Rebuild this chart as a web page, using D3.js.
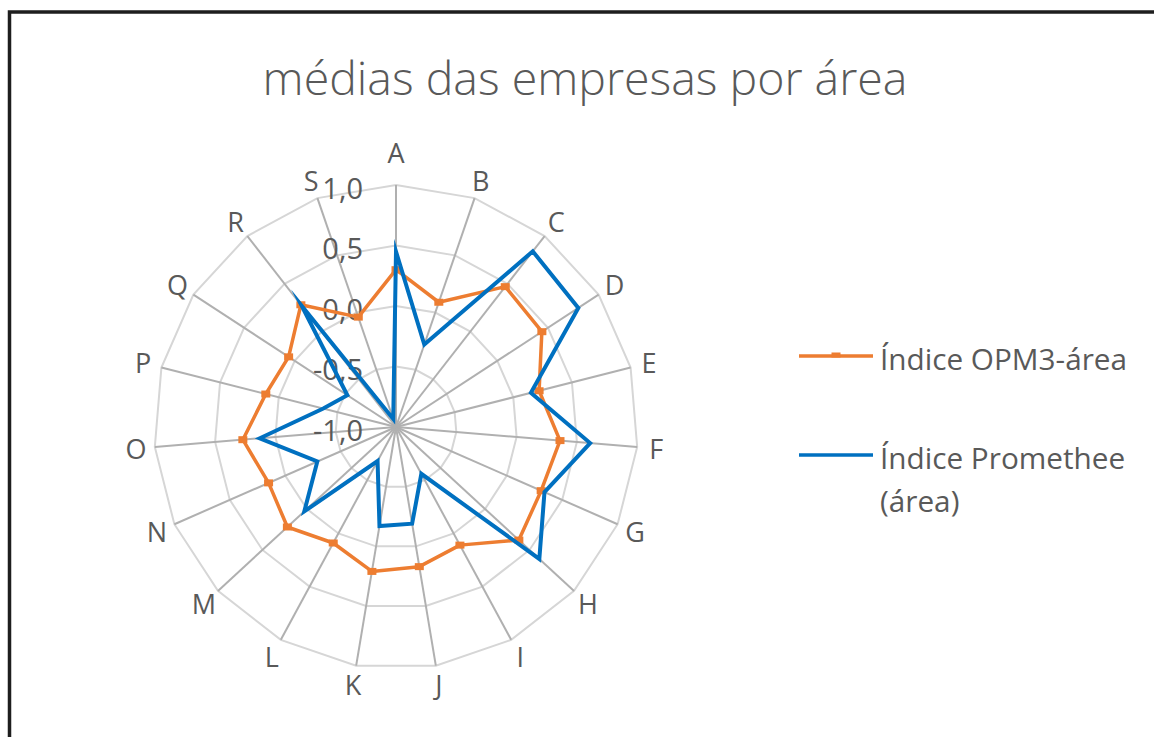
<!DOCTYPE html>
<html>
<head>
<meta charset="utf-8">
<script src="https://cdn.jsdelivr.net/npm/d3@7"></script>
<style>
  html, body { margin: 0; padding: 0; background: #ffffff; }
  svg { display: block; }
  text { font-family: "Open Sans", "Noto Sans", sans-serif; fill: #595959; }
</style>
</head>
<body>
<svg id="chart" width="1154" height="737"></svg>
<script>
// Categories (areas) around the radar, clockwise from the top
const categories = ["A","B","C","D","E","F","G","H","I","J","K","L","M","N","O","P","Q","R","S"];

// Series values
const opm3Values = [0.30, 0.09, 0.47, 0.44, 0.22, 0.36, 0.31, 0.38, 0.11, 0.17, 0.21, 0.09, 0.22, 0.15, 0.27, 0.11, 0.06, 0.28, -0.04];
const prometheeValues = [0.45, -0.28, 0.84, 0.80, 0.15, 0.61, 0.34, 0.61, -0.56, -0.19, -0.17, -0.68, 0.03, -0.29, 0.13, -0.38, -0.52, 0.27, -0.93];

// Radial axis ticks and their labels
const tickValues = [-1.0, -0.5, 0.0, 0.5, 1.0];
const tickLabels = ["-1,0", "-0,5", "0,0", "0,5", "1,0"];

const seriesNames = ["Índice OPM3-área", "Índice Promethee (área)"];
const seriesColors = ["#ED7D31", "#0070C0"];

const svg = d3.select("#chart");
const width = 1154, height = 737;

svg.append("rect").attr("width", width).attr("height", height).attr("fill", "#ffffff");

// Chart frame (runs off the right and bottom edges)
svg.append("rect")
  .attr("x", 9.5).attr("y", 12)
  .attr("width", 1200).attr("height", 800)
  .attr("fill", "none")
  .attr("stroke", "#1e1e1e")
  .attr("stroke-width", 3.5);

// Size a text element so that it spans a given width
function fitWidth(sel, target) {
  const base = parseFloat(sel.style("font-size"));
  const w = sel.node().getComputedTextLength();
  if (w > 0) sel.style("font-size", (base * target / w).toFixed(2) + "px");
}

// Title
const title = svg.append("text")
  .attr("x", 585).attr("y", 95)
  .attr("text-anchor", "middle")
  .style("font-size", "43px")
  .style("font-weight", 300)
  .text("médias das empresas por área");
fitWidth(title, 645);

const cx = 396, cy = 427, R = 242;
const g = svg.append("g").attr("transform", `translate(${cx},${cy})`);

const rScale = d3.scaleLinear().domain([-1, 1]).range([0, R]);
const aScale = d3.scaleLinear().domain([0, categories.length]).range([0, 2 * Math.PI]);

const ringLine = d3.lineRadial()
  .angle((d, i) => aScale(i))
  .radius(d => rScale(d))
  .curve(d3.curveLinearClosed);

// Gridline rings (polygons)
g.append("g").selectAll("path")
  .data(tickValues.filter(t => t > -1))
  .join("path")
  .attr("d", t => ringLine(categories.map(() => t)))
  .attr("fill", "none")
  .attr("stroke", "#d6d6d6")
  .attr("stroke-width", 2);

// Spokes
g.append("g").selectAll("line")
  .data(categories)
  .join("line")
  .attr("x1", 0).attr("y1", 0)
  .attr("x2", (d, i) => rScale(1) * Math.sin(aScale(i)))
  .attr("y2", (d, i) => -rScale(1) * Math.cos(aScale(i)))
  .attr("stroke", "#b0b0b0")
  .attr("stroke-width", 2);

// Category labels
const labelR = rScale(1) + 19;
g.append("g").selectAll("text")
  .data(categories)
  .join("text")
  .attr("x", (d, i) => labelR * Math.sin(aScale(i)))
  .attr("y", (d, i) => -(i === 0 ? labelR + 14 : labelR) * Math.cos(aScale(i)))
  .attr("text-anchor", "middle")
  .attr("dominant-baseline", "central")
  .style("font-size", "27px")
  .text(d => d);

// Radial axis tick labels along the first spoke
g.append("g").selectAll("text")
  .data(tickValues)
  .join("text")
  .attr("x", -33)
  .attr("y", t => -rScale(t) + 2)
  .attr("text-anchor", "end")
  .attr("dominant-baseline", "central")
  .style("font-size", "29px")
  .text((t, i) => tickLabels[i]);

// Series lines
const seriesLine = d3.lineRadial()
  .angle((d, i) => aScale(i))
  .radius(d => rScale(d))
  .curve(d3.curveLinearClosed);

g.append("path")
  .attr("d", seriesLine(opm3Values))
  .attr("fill", "none")
  .attr("stroke", seriesColors[0])
  .attr("stroke-width", 3.5)
  .attr("stroke-linejoin", "round");

// OPM3 markers
g.append("g").selectAll("rect")
  .data(opm3Values)
  .join("rect")
  .attr("x", (d, i) => rScale(d) * Math.sin(aScale(i)) - 4.5)
  .attr("y", (d, i) => -rScale(d) * Math.cos(aScale(i)) - 3.5)
  .attr("width", 9).attr("height", 7)
  .attr("fill", seriesColors[0]);

g.append("path")
  .attr("d", seriesLine(prometheeValues))
  .attr("fill", "none")
  .attr("stroke", seriesColors[1])
  .attr("stroke-width", 4)
  .attr("stroke-linejoin", "miter")
  .attr("stroke-miterlimit", 10);

// Legend
const legend = svg.append("g");
const lx1 = 799, lx2 = 873, tx = 880;

legend.append("line")
  .attr("x1", lx1).attr("x2", lx2).attr("y1", 356).attr("y2", 356)
  .attr("stroke", seriesColors[0]).attr("stroke-width", 3.5);
legend.append("rect")
  .attr("x", (lx1 + lx2) / 2 - 4.5).attr("y", 352.5)
  .attr("width", 9).attr("height", 5)
  .attr("fill", seriesColors[0]);
const t1 = legend.append("text")
  .attr("x", tx).attr("y", 358)
  .attr("dominant-baseline", "central")
  .style("font-size", "25px")
  .text(seriesNames[0]);
fitWidth(t1, 247);
const legendSize = t1.style("font-size");

legend.append("line")
  .attr("x1", lx1).attr("x2", lx2).attr("y1", 455).attr("y2", 455)
  .attr("stroke", seriesColors[1]).attr("stroke-width", 3.5);
const t2 = legend.append("text")
  .attr("x", tx).attr("y", 457)
  .style("font-size", legendSize);
t2.append("tspan").attr("x", tx).attr("dy", 0).attr("dominant-baseline", "central").text("Índice Promethee");
t2.append("tspan").attr("x", tx).attr("dy", 43).attr("dominant-baseline", "central").text("(área)");
</script>
</body>
</html>
